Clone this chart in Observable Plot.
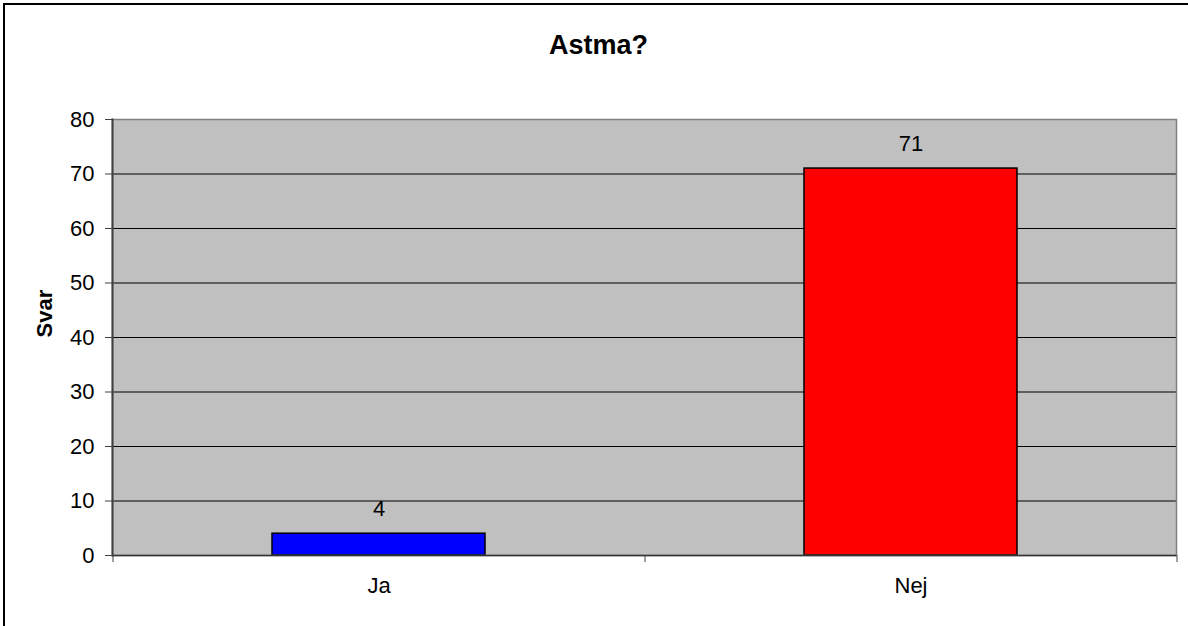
<!DOCTYPE html>
<html>
<head>
<meta charset="utf-8">
<script src="https://cdn.jsdelivr.net/npm/d3@7"></script>
<script src="https://cdn.jsdelivr.net/npm/@observablehq/plot@0.6"></script>
<style>
  html, body { margin: 0; padding: 0; background: #fff; overflow: hidden; }
  #wrap { position: relative; width: 1188px; height: 626px; }
  #wrap::before { content: ""; position: absolute; left: 3px; top: 3px; width: 2000px; height: 2000px;
    border: 2px solid #000; box-sizing: border-box; pointer-events: none; }
  #wrap svg { position: relative; }
</style>
</head>
<body>
<div id="wrap"></div>
<script>
const title = "Astma?";
const yLabel = "Svar";
const categories = ["Ja", "Nej"];
const values = [4, 71];
const barColors = ["#0000FF", "#FF0000"];
const yTicks = [0, 10, 20, 30, 40, 50, 60, 70, 80];

const data = categories.map((c, i) => ({cat: c, val: values[i], color: barColors[i]}));

const W = 1188, H = 626;
const mL = 112, mR = 12, mT = 119, mB = 71;
const step = (W - mL - mR) / categories.length;
const font = "'Liberation Sans', Arial, sans-serif";

const chart = Plot.plot({
  width: W,
  height: H,
  marginLeft: mL,
  marginRight: mR,
  marginTop: mT,
  marginBottom: mB,
  style: {fontFamily: font, fontSize: "22px", color: "#000", background: "transparent"},
  x: {domain: categories, paddingInner: 0.6, paddingOuter: 0.3, axis: null, label: null},
  y: {domain: [0, 80], axis: null, label: null},
  color: {type: "identity"},
  marks: [
    Plot.frame({fill: "#C0C0C0", stroke: null}),
    Plot.gridY(yTicks.filter(t => t > 0 && t < 80), {stroke: "#000", strokeOpacity: 1, strokeWidth: 1}),
    Plot.barY(data, {x: "cat", y: "val", fill: "color", stroke: "#000", strokeWidth: 1.5}),
    Plot.frame({stroke: "#808080", strokeWidth: 1.5}),
    Plot.ruleY([0], {stroke: "#333", strokeWidth: 1.5}),
    Plot.frame({anchor: "left", stroke: "#404040", strokeWidth: 2}),
    Plot.axisY(yTicks, {tickSize: 7, tickPadding: 11, stroke: "#404040", fill: "#000", fontSize: 22, tickFormat: d => String(d), label: null}),
    Plot.axisX(categories, {tickSize: 7, text: null, stroke: "#404040", dx: -step / 2, label: null}),
    Plot.axisX(categories.slice(-1), {tickSize: 7, text: null, stroke: "#404040", dx: step / 2, label: null}),
    Plot.axisX(categories, {tickSize: 0, tickPadding: 22, fill: "#000", fontSize: 22, label: null}),
    Plot.text(data, {x: "cat", y: "val", text: d => String(d.val), lineAnchor: "bottom", dy: -18, fontSize: 22, fill: "#000"}),
    Plot.text([yLabel], {frameAnchor: "left", rotate: -90, dx: -68, fontWeight: "bold", fontSize: 22, fill: "#000", lineAnchor: "middle"}),
    Plot.text([title], {frameAnchor: "top", dx: (W / 2) - (mL + (W - mL - mR) / 2) + 4, dy: -74, fontWeight: "bold", fontSize: 27, fill: "#000", lineAnchor: "middle"})
  ]
});
document.getElementById("wrap").appendChild(chart);
</script>
</body>
</html>
